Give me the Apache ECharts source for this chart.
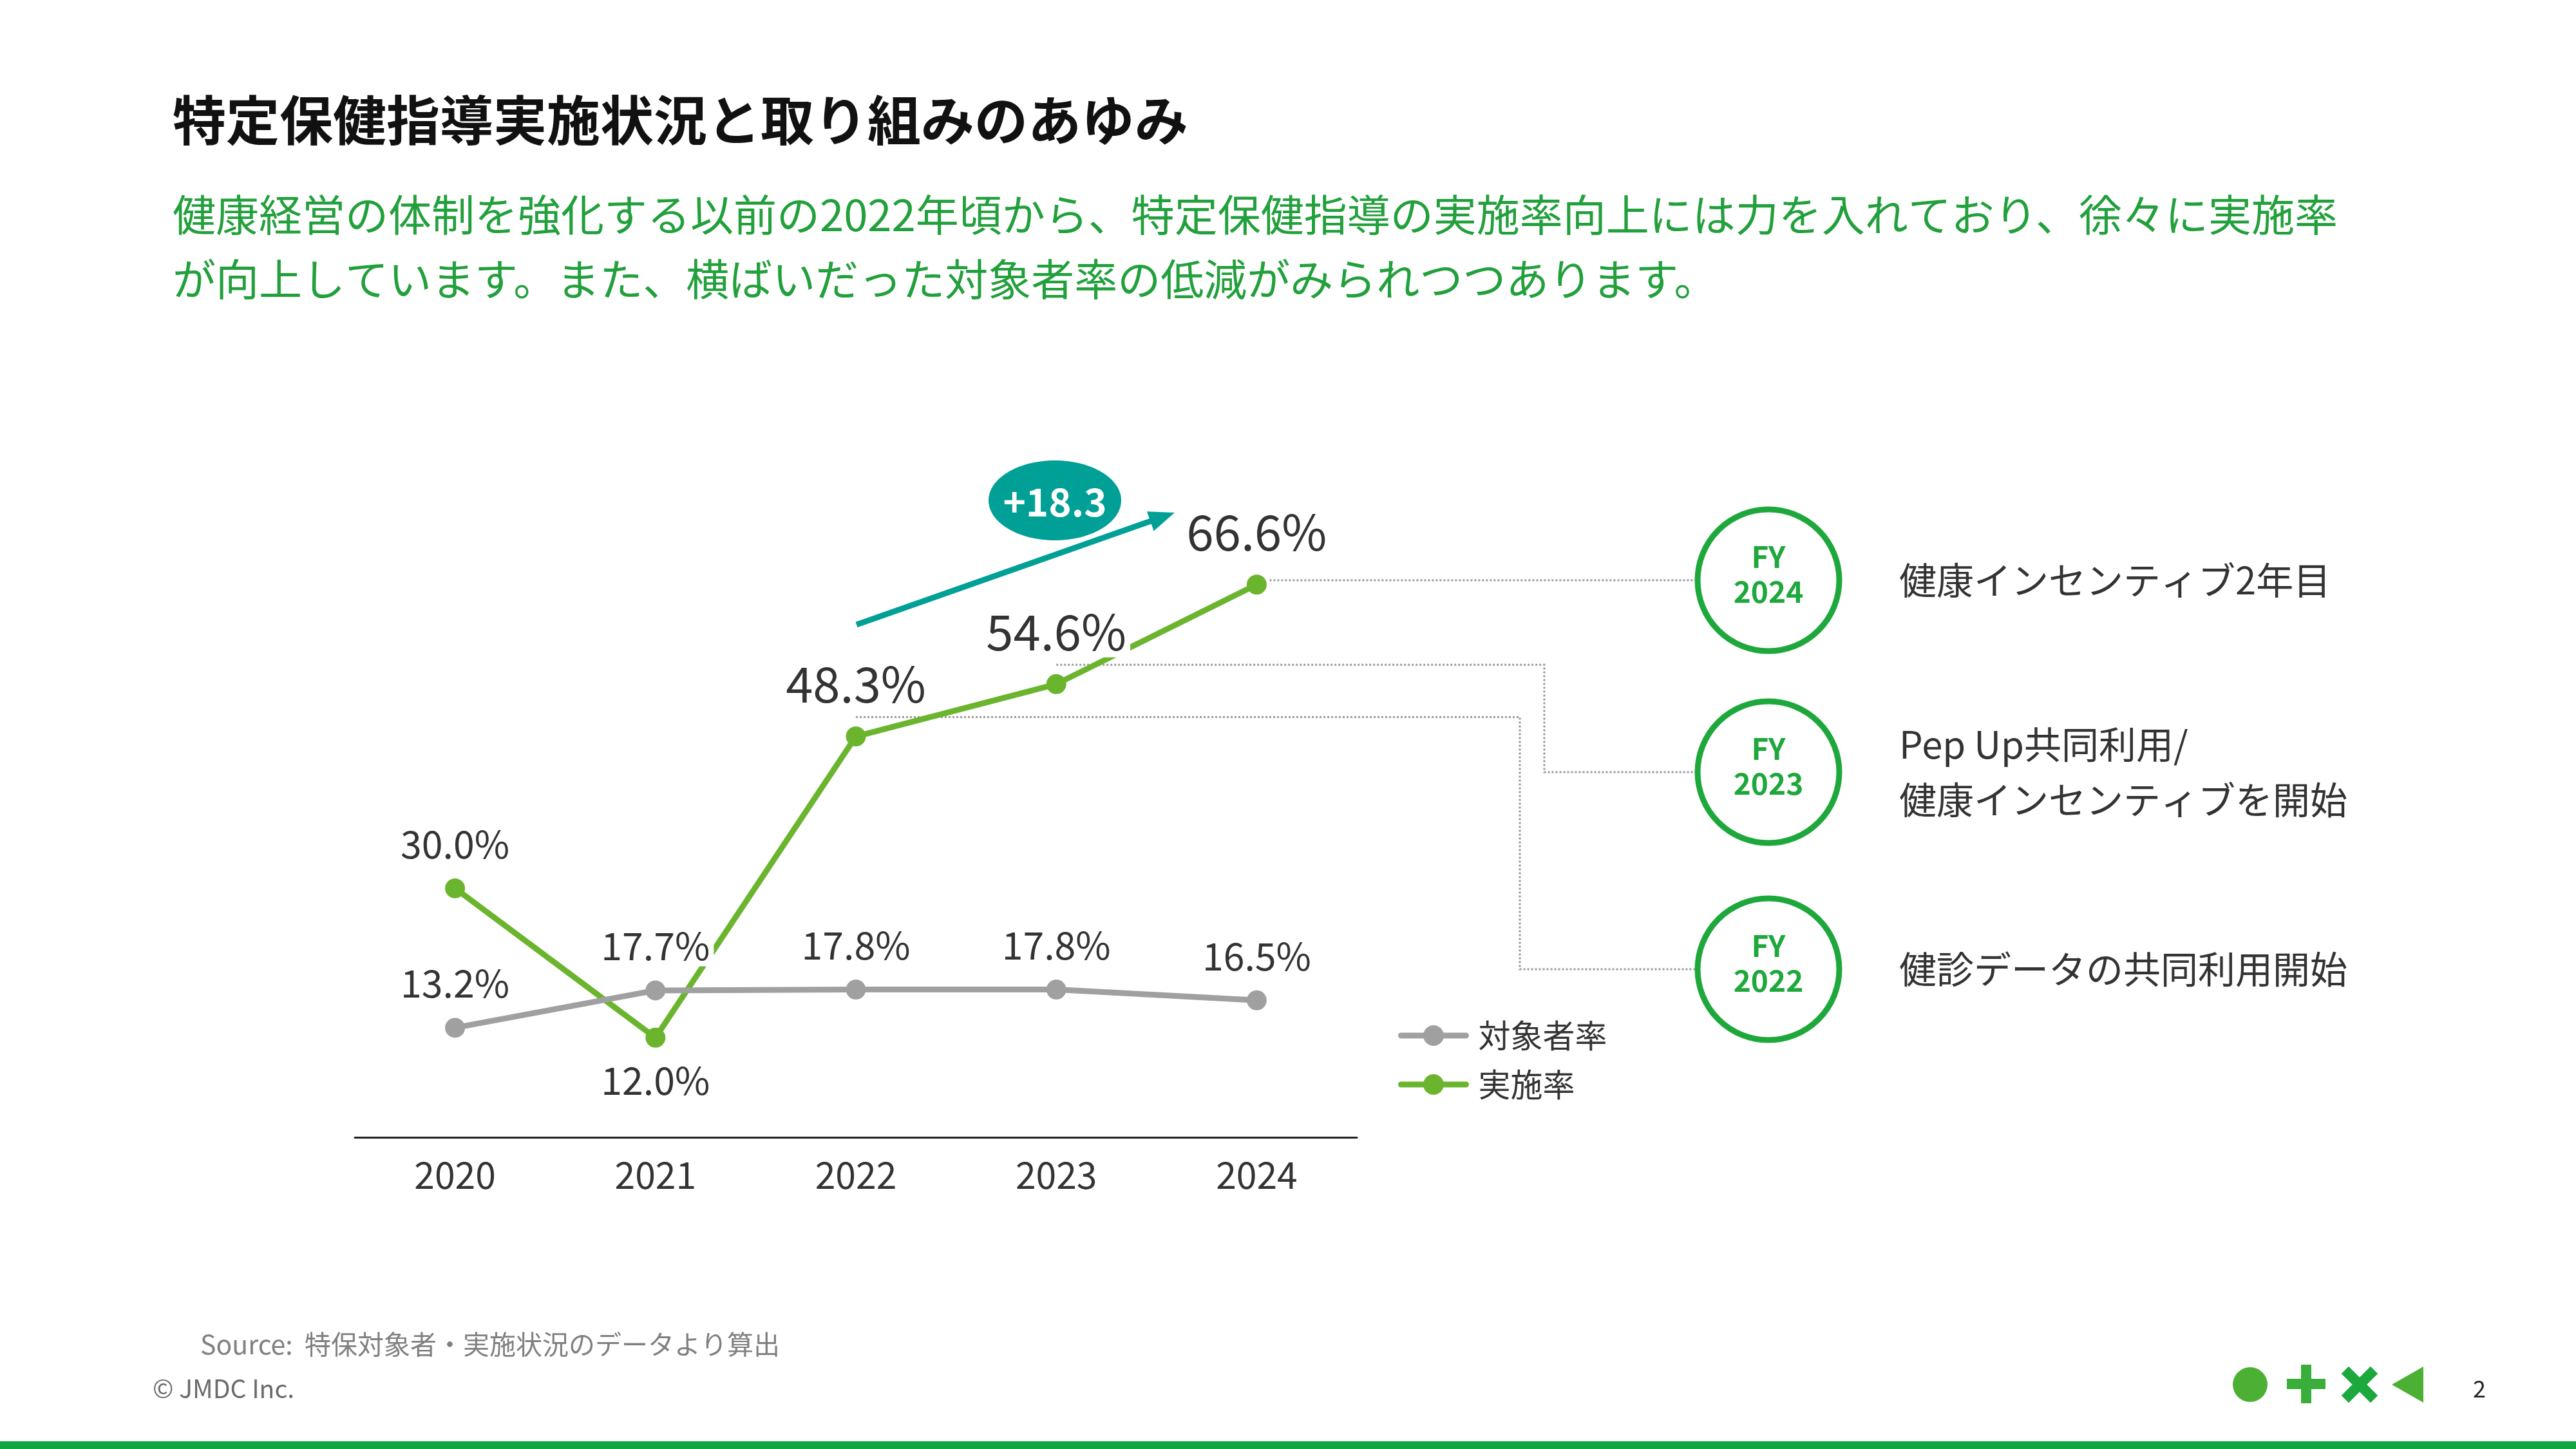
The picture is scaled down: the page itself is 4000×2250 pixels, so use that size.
<!DOCTYPE html>
<html>
<head>
<meta charset="utf-8">
<title>特定保健指導実施状況と取り組みのあゆみ</title>
<script src="https://cdn.jsdelivr.net/npm/echarts@6/dist/echarts.min.js"></script>
<style>
  html, body { margin: 0; padding: 0; background: #fff; }
  #chart { width: 4000px; height: 2250px; }
</style>
</head>
<body>
<div id="chart"></div>
<script>
var years = ['2020', '2021', '2022', '2023', '2024'];
var targetRate = [13.2, 17.7, 17.8, 17.8, 16.5];   // 対象者率
var implRate = [30.0, 12.0, 48.3, 54.6, 66.6];     // 実施率
var seriesNames = ['対象者率', '実施率'];
var diffLabel = '+18.3';
var milestoneYears = ['2024', '2023', '2022'];
var milestoneTexts = [
    ['健康インセンティブ2年目'],
    ['Pep Up共同利用/', '健康インセンティブを開始'],
    ['健診データの共同利用開始']
];

var FONT = '"Noto Sans CJK JP", "Noto Sans", sans-serif';
var GREEN = '#6bb52e';
var GRAY = '#a0a0a0';
var RING = '#1ea83c';
var TEAL = '#00a097';

function pct(v) { return v.toFixed(1) + '%'; }

var implData = implRate.map(function (v, i) {
    var item = { value: v };
    if (i === 1) {
        item.label = { position: 'bottom', distance: 19 };
    } else if (i >= 2) {
        item.label = { fontSize: 76, distance: 26 };
    }
    return item;
});

var chart = echarts.init(document.getElementById('chart'));

var option = {
    backgroundColor: '#fff',
    animation: false,
    textStyle: { fontFamily: FONT },
    grid: { left: 551, right: 1893, top: 735, bottom: 484 },
    legend: {
        orient: 'vertical',
        left: 2171,
        top: 1583,
        padding: 0,
        itemWidth: 101,
        itemHeight: 40,
        itemGap: 26,
        data: seriesNames,
        lineStyle: { width: 9, cap: 'round' },
        textStyle: { fontSize: 50, color: '#333', fontFamily: FONT, padding: [0, 0, 0, 14] }
    },
    xAxis: {
        type: 'category',
        data: years,
        axisLine: { lineStyle: { color: '#222', width: 3 } },
        axisTick: { show: false },
        axisLabel: { fontSize: 57, color: '#333', margin: 30, fontFamily: FONT }
    },
    yAxis: {
        type: 'value',
        min: 0,
        max: 80,
        show: false,
        splitLine: { show: false }
    },
    series: [
        {
            name: seriesNames[0],
            type: 'line',
            z: 3,
            data: targetRate,
            symbol: 'circle',
            symbolSize: 31,
            lineStyle: { color: GRAY, width: 9 },
            itemStyle: { color: GRAY },
            label: {
                show: true,
                position: 'top',
                distance: 22,
                fontSize: 59,
                color: '#333',
                fontFamily: FONT,
                backgroundColor: '#fff',
                padding: [2, 6],
                formatter: function (p) { return pct(p.value); }
            }
        },
        {
            name: seriesNames[1],
            type: 'line',
            z: 2,
            data: implData,
            symbol: 'circle',
            symbolSize: 31,
            lineStyle: { color: GREEN, width: 9 },
            itemStyle: { color: GREEN },
            label: {
                show: true,
                position: 'top',
                distance: 22,
                fontSize: 59,
                color: '#333',
                fontFamily: FONT,
                backgroundColor: '#fff',
                padding: [2, 6],
                formatter: function (p) { return pct(p.value); }
            }
        }
    ]
};
chart.setOption(option);

// annotations (page text, connectors, rings, arrow, footer)
var g = [];

function txt(x, y, s, size, color, weight, align) {
    g.push({
        type: 'text',
        z: 10,
        style: {
            x: x, y: y, text: s,
            fontSize: size, fontFamily: FONT, fontWeight: weight || 'normal',
            fill: color, textAlign: align || 'left', textVerticalAlign: 'middle'
        }
    });
}

txt(268, 186, '特定保健指導実施状況と取り組みのあゆみ', 83, '#111', 'bold');
txt(268, 334, '健康経営の体制を強化する以前の2022年頃から、特定保健指導の実施率向上には力を入れており、徐々に実施率', 67, '#22a03c');
txt(268, 434, 'が向上しています。また、横ばいだった対象者率の低減がみられつつあります。', 67, '#22a03c');

// rings on the right
var ringX = 2746;
var ringY = [901, 1199, 1505];
var ringR = 110;
ringY.forEach(function (cy, k) {
    g.push({
        type: 'circle', z: 5,
        shape: { cx: ringX, cy: cy, r: ringR },
        style: { fill: '#fff', stroke: RING, lineWidth: 9 }
    });
    txt(ringX, cy - 36, 'FY', 46, RING, 'bold', 'center');
    txt(ringX, cy + 18, milestoneYears[k], 46, RING, 'bold', 'center');
    var lines = milestoneTexts[k];
    var lh = 86;
    lines.forEach(function (s, j) {
        txt(2949, cy + (j - (lines.length - 1) / 2) * lh, s, 58, '#333');
    });
});

// dotted connectors from the chart to the rings
var dotted = { stroke: '#9a9a9a', lineWidth: 3, lineDash: [3, 3], fill: null };
var p24 = chart.convertToPixel({ gridIndex: 0 }, [4, implRate[4]]);
var p23 = chart.convertToPixel({ gridIndex: 0 }, [3, implRate[3]]);
var p22 = chart.convertToPixel({ gridIndex: 0 }, [2, implRate[2]]);
var ringLeft = ringX - ringR - 4;
g.push({ type: 'polyline', z: 1, shape: { points: [[p24[0] + 20, ringY[0]], [ringLeft, ringY[0]]] }, style: dotted });
g.push({ type: 'polyline', z: 1, shape: { points: [[p23[0], p23[1] - 30], [2398, p23[1] - 30], [2398, ringY[1]], [ringLeft, ringY[1]]] }, style: dotted });
g.push({ type: 'polyline', z: 1, shape: { points: [[p22[0], p22[1] - 30], [2360, p22[1] - 30], [2360, ringY[2]], [ringLeft, ringY[2]]] }, style: dotted });

// teal arrow with badge
var a0 = [1330, 970], a1 = [1824, 796];
var ang = Math.atan2(a1[1] - a0[1], a1[0] - a0[0]);
var ux = Math.cos(ang), uy = Math.sin(ang);
var nx = -uy, ny = ux;
var shaftEnd = [a1[0] - 30 * ux, a1[1] - 30 * uy];
var base = [a1[0] - 40 * ux, a1[1] - 40 * uy];
g.push({ type: 'line', z: 6, shape: { x1: a0[0], y1: a0[1], x2: shaftEnd[0], y2: shaftEnd[1] }, style: { stroke: TEAL, lineWidth: 9 } });
g.push({
    type: 'polygon', z: 6,
    shape: { points: [a1, [base[0] + 16 * nx, base[1] + 16 * ny], [base[0] - 16 * nx, base[1] - 16 * ny]] },
    style: { fill: TEAL }
});
g.push({ type: 'ellipse', z: 6, shape: { cx: 1638, cy: 777, rx: 103, ry: 62 }, style: { fill: TEAL } });
txt(1638, 779, diffLabel, 60, '#fff', 'bold', 'center');

// footer
txt(311, 2087, 'Source:  特保対象者・実施状況のデータより算出', 41, '#808080');
txt(237, 2156, '© JMDC Inc.', 39, '#6a6a6a');
txt(3850, 2156, '2', 36, '#222', 'normal', 'center');

// logo marks
g.push({ type: 'circle', z: 5, shape: { cx: 3494, cy: 2150, r: 27 }, style: { fill: '#4cb034' } });
g.push({ type: 'rect', z: 5, shape: { x: 3551, y: 2141, width: 60, height: 16 }, style: { fill: '#3aae3b' } });
g.push({ type: 'rect', z: 5, shape: { x: 3573, y: 2119, width: 16, height: 60 }, style: { fill: '#3aae3b' } });
g.push({ type: 'rect', z: 5, x: 3664, y: 2150, rotation: Math.PI / 4, shape: { x: -32, y: -8, width: 64, height: 16 }, style: { fill: '#1ca83c' } });
g.push({ type: 'rect', z: 5, x: 3664, y: 2150, rotation: -Math.PI / 4, shape: { x: -32, y: -8, width: 64, height: 16 }, style: { fill: '#1ca83c' } });
g.push({ type: 'polygon', z: 5, shape: { points: [[3714, 2150], [3763, 2122], [3763, 2178]] }, style: { fill: '#4cb034' } });

// bottom band
g.push({ type: 'rect', z: 5, shape: { x: 0, y: 2238, width: 4000, height: 12 }, style: { fill: '#0fa73f' } });

chart.setOption({ graphic: g });
</script>
</body>
</html>
